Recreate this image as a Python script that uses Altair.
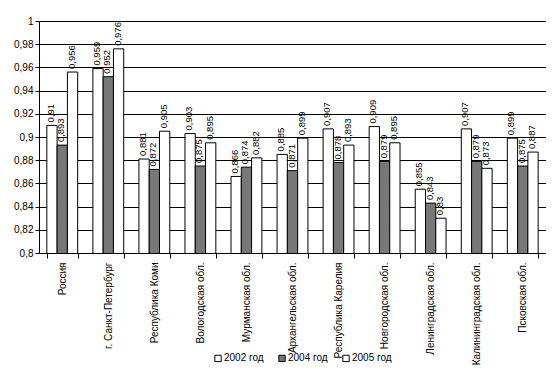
import altair as alt
import pandas as pd

regions = ["Россия", "г. Санкт-Петербург", "Республика Коми", "Вологодская обл.",
           "Мурманская обл.", "Архангельская обл.", "Республика Карелия",
           "Новгородская обл.", "Ленинградская обл.", "Калининградская обл.",
           "Псковская обл."]
years = ["2002 год", "2004 год", "2005 год"]
v2002 = [0.910, 0.959, 0.881, 0.903, 0.866, 0.885, 0.907, 0.909, 0.855, 0.907, 0.899]
v2004 = [0.893, 0.952, 0.872, 0.875, 0.874, 0.871, 0.878, 0.879, 0.843, 0.879, 0.875]
v2005 = [0.956, 0.976, 0.905, 0.895, 0.882, 0.899, 0.893, 0.895, 0.830, 0.873, 0.887]
y_ticks = [0.8, 0.82, 0.84, 0.86, 0.88, 0.9, 0.92, 0.94, 0.96, 0.98, 1.0]

rows = []
for i, r in enumerate(regions):
    for y, vals in zip(years, [v2002, v2004, v2005]):
        v = vals[i]
        rows.append({"region": r, "year": y, "value": v,
                     "label": (("%.3f" % v).rstrip("0")).replace(".", ",")})
df = pd.DataFrame(rows)

FONT = "Liberation Sans"

x = alt.X("region:N", sort=regions, title=None,
          scale=alt.Scale(paddingInner=0.33, paddingOuter=0.17),
          axis=alt.Axis(labelAngle=-90, labelFontSize=10, labelFont=FONT,
                        labelColor="black", domainColor="black", tickColor="black",
                        tickBand="extent", tickSize=5, labelPadding=4,
                        labelLimit=200, grid=False))
y = alt.Y("value:Q", title=None,
          scale=alt.Scale(domain=[0.8, 1.0], nice=False, zero=False),
          axis=alt.Axis(values=y_ticks, labelOverlap=False,
                        labelExpr="replace(format(datum.value, ''), '.', ',')",
                        labelFontSize=10, labelFont=FONT, labelColor="black",
                        grid=True, gridColor="black", gridOpacity=1, gridWidth=1,
                        domainColor="black", tickColor="black", tickSize=4))

color = alt.Color("year:N", sort=years,
                  scale=alt.Scale(domain=years, range=["#ffffff", "#777777", "#ffffff"]),
                  legend=alt.Legend(title=None, orient="none", direction="horizontal",
                                    legendX=174, legendY=332, symbolType="square",
                                    symbolSize=40, symbolStrokeColor="black",
                                    symbolStrokeWidth=1, labelFontSize=10,
                                    labelFont=FONT, labelColor="black",
                                    columnPadding=12, symbolOffset=0, labelOffset=1))

xoff = alt.XOffset("year:N", sort=years, scale=alt.Scale(paddingInner=0, paddingOuter=0))

base = alt.Chart(df).encode(x=x, y=y, xOffset=xoff)

bars = base.mark_bar(stroke="black", strokeWidth=1, clip=True).encode(color=color)

text = base.mark_text(angle=270, align="left", baseline="middle",
                      dx=3, dy=-1, fontSize=9.5, font=FONT, color="black").encode(
    text="label:N",
)

chart = alt.layer(bars, text).properties(
    width=507, height=232,
    padding={"left": 31, "top": 13, "right": 0, "bottom": 115},
    autosize=alt.AutoSizeParams(type="none"),
).configure_view(stroke=None)

chart.save("out.html", embed_options={"renderer": "svg", "actions": False})
